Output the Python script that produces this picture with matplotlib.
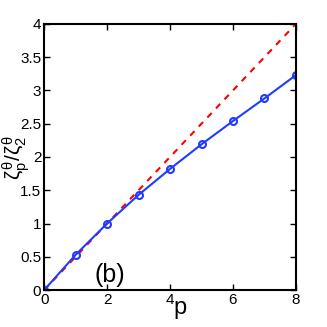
import matplotlib
matplotlib.use('Agg')
import matplotlib.pyplot as plt

plt.rcParams['font.family'] = ['Liberation Sans Narrow', 'Liberation Sans', 'DejaVu Sans']
plt.rcParams['mathtext.fontset'] = 'custom'
plt.rcParams['mathtext.rm'] = 'Liberation Sans'
plt.rcParams['mathtext.it'] = 'Liberation Sans'

p = [0, 1, 2, 3, 4, 5, 6, 7, 8]
ratio = [0, 0.53, 1.0, 1.43, 1.82, 2.19, 2.54, 2.88, 3.23]
k41 = [0, 4]
k41_p = [0, 8]

fig = plt.figure(figsize=(3.27, 3.27), dpi=100)
ax = fig.add_axes([0.135, 0.113, 0.77, 0.814])

ax.plot(k41_p, k41, '--', color='red', linewidth=1.5, dashes=(3, 3))
ax.plot(p, ratio, '-o', color='#1f3cff', linewidth=1.5, markersize=5,
        markerfacecolor='none', markeredgewidth=1.5)

ax.set_xlim(0, 8)
ax.set_ylim(0, 4)
ax.set_xticks([0, 2, 4, 6, 8])
ax.set_yticks([0, 0.5, 1, 1.5, 2, 2.5, 3, 3.5, 4])
ax.set_yticklabels(['0', '0.5', '1', '1.5', '2', '2.5', '3', '3.5', '4'])
ax.tick_params(direction='in', top=True, right=True, labelsize=11, length=4, width=1, pad=2)
for s in ax.spines.values():
    s.set_linewidth(1.5)

ax.set_xlabel('p', fontsize=17)
ax.xaxis.set_label_coords(0.54, -0.025)
ax.set_ylabel(r'$\zeta_p^\theta/\zeta_2^\theta$', fontsize=15, rotation=90)
ax.yaxis.set_label_coords(-0.05, 0.5)
ax.text(1.6, 0.12, '(b)', fontsize=18)

fig.savefig('out.png', dpi=100)
